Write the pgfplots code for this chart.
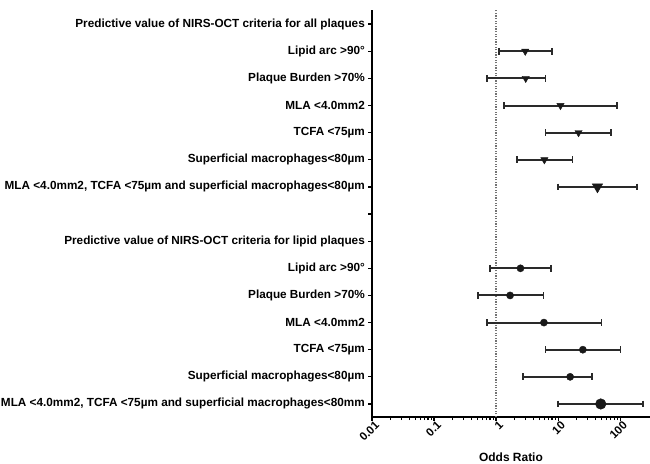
\documentclass[border=0pt]{standalone}
\usepackage{fontspec}
\setmainfont{Liberation Sans}
\usepackage{pgfplots}
\pgfplotsset{compat=1.18}
\definecolor{barc}{HTML}{2A2A2A}
\begin{document}
\begin{tikzpicture}
\begin{axis}[
  at={(0,0)}, anchor=south west,
  scale only axis, width=278bp, height=407bp,
  xmode=log, xmin=0.01, xmax=302,
  ymin=-0.48, ymax=14.52,
  axis lines*=left,
  axis line style={line width=2bp, black},
  tick align=outside,
  major tick length=4bp, minor tick length=3bp,
  every tick/.style={black, line width=1.3bp},
  xtick={0.01,0.1,1,10,100},
  xticklabels={0.01,0.1,1,10,100},
  xticklabel style={rotate=45, anchor=north east, font=\bfseries\fontsize{11.5}{12}\selectfont, inner sep=1pt, xshift=3bp},
  ytick={0,...,14},
  yticklabels={
    {MLA <4.0mm2, TCFA <75µm and superficial macrophages<80mm},
    {Superficial macrophages<80µm},
    {TCFA <75µm},
    {MLA <4.0mm2},
    {Plaque Burden >70\%},
    {Lipid arc >90°},
    {Predictive value of NIRS-OCT criteria for lipid plaques},
    {},
    {MLA <4.0mm2, TCFA <75µm and superficial macrophages<80µm},
    {Superficial macrophages<80µm},
    {TCFA <75µm},
    {MLA <4.0mm2},
    {Plaque Burden >70\%},
    {Lipid arc >90°},
    {Predictive value of NIRS-OCT criteria for all plaques}},
  yticklabel style={font=\bfseries\fontsize{11.8}{12}\selectfont, inner sep=1pt, xshift=-2bp},
  xlabel={Odds Ratio},
  xlabel style={font=\bfseries\fontsize{12}{13}\selectfont, at={(axis description cs:0.5,0)}, anchor=center, yshift=-40.5bp},
  clip=false,
  ci/.style={barc, line width=2bp, mark=|, mark size=3.4bp, mark options={line width=1.5bp}},
]
\addplot[gray!90!black, line width=1.4bp, dash pattern=on 1.3bp off 1.3bp] coordinates {(1,-0.48) (1,14.52)};
% upper group
\addplot[ci] coordinates {(1.12,13) (8.0,13)};
\addplot[ci] coordinates {(0.72,12) (6.3,12)};
\addplot[ci] coordinates {(1.33,11) (88,11)};
\addplot[ci] coordinates {(6.2,10) (71,10)};
\addplot[ci] coordinates {(2.16,9) (17,9)};
\addplot[ci] coordinates {(10,8) (186,8)};
% lower group
\addplot[ci] coordinates {(0.8,5) (7.7,5)};
\addplot[ci] coordinates {(0.51,4) (5.8,4)};
\addplot[ci] coordinates {(0.72,3) (50,3)};
\addplot[ci] coordinates {(6.2,2) (102,2)};
\addplot[ci] coordinates {(2.7,1) (35,1)};
\addplot[ci] coordinates {(10,0) (233,0)};
% markers
\addplot[only marks, mark=triangle*, mark size=4.2bp, mark options={rotate=180, fill=black!90, draw=black!90}] coordinates {(2.95,13) (3.0,12) (10.9,11) (21.3,10) (6.0,9)};
\addplot[only marks, mark=triangle*, mark size=6bp, mark options={rotate=180, fill=black!90, draw=black!90}] coordinates {(43,8)};
\addplot[only marks, mark=*, mark size=3.6bp, mark options={fill=black!90, draw=black!90}] coordinates {(2.47,5) (1.68,4) (5.9,3) (25,2) (15.6,1)};
\addplot[only marks, mark=*, mark size=5.3bp, mark options={fill=black!90, draw=black!90}] coordinates {(48.6,0)};
\end{axis}
\pgfresetboundingbox
\useasboundingbox (-372bp,-47bp) rectangle (278bp,417bp);
\end{tikzpicture}
\end{document}
